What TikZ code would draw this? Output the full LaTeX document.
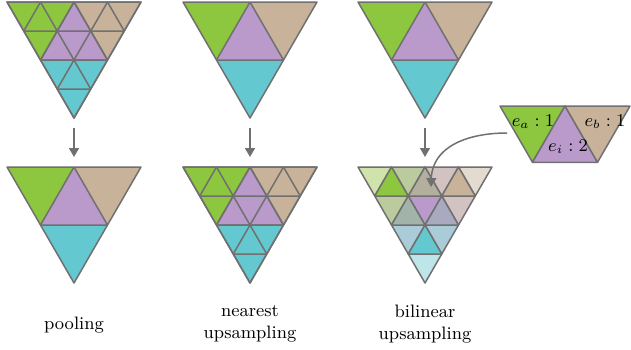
\documentclass[tikz,border=0pt]{standalone}
\usetikzlibrary{arrows.meta}
\begin{document}
\begin{tikzpicture}[x=0.5pt,y=0.5pt,
    tri/.style={draw=edge,line width=0.75pt,line join=round},
    flecha/.style={draw=edge,line width=0.75pt,-{Triangle[length=4.5pt,width=5pt]}},
    rotulo/.style={font=\small,align=center,inner sep=0pt}]
    %colores
    \definecolor{edge}{HTML}{707070}
    \definecolor{verde}{HTML}{8DC63F}
    \definecolor{morado}{HTML}{B99ACB}
    \definecolor{arena}{HTML}{C8B29A}
    \definecolor{cian}{HTML}{64C8D0}
    \definecolor{bA}{HTML}{D0E3AA}
    \definecolor{bB}{HTML}{BCCB9E}
    \definecolor{bC}{HTML}{D2C3C2}
    \definecolor{bD}{HTML}{E3DBD0}
    \definecolor{bE}{HTML}{B4AE9E}
    \definecolor{bF}{HTML}{A2B4AA}
    \definecolor{bG}{HTML}{A9A9BF}
    \definecolor{bH}{HTML}{AACBD8}
    \definecolor{bI}{HTML}{BEE5E8}
    \useasboundingbox (0,0) rectangle (631,-349);

    % triangulos gruesos
    \foreach \px/\py in {7/-2,183/-2,358/-2,7/-167,183/-167}{
        \begin{scope}[shift={(\px,\py)}]
            \fill[verde] (0,0) -- (67,0) -- (33.5,-58) -- cycle;
            \fill[arena] (67,0) -- (134,0) -- (100.5,-58) -- cycle;
            \fill[morado] (67,0) -- (33.5,-58) -- (100.5,-58) -- cycle;
            \fill[cian] (33.5,-58) -- (100.5,-58) -- (67,-116) -- cycle;
            \draw[tri] (0,0) -- (134,0) -- (67,-116) -- cycle
                (67,0) -- (33.5,-58) -- (100.5,-58) -- cycle;
        \end{scope}
    }

    % malla fina
    \foreach \px/\py in {7/-2,183/-167}{
        \begin{scope}[shift={(\px,\py)}]
            \foreach \r/\i in {0/0,0/1,0/2,0/3,1/0,1/1,1/2,2/0,2/1,3/0}
            \draw[tri] ({\r*16.75+\i*33.5},{-\r*29}) -- ++(33.5,0) -- ++(-16.75,-29) -- cycle;
        \end{scope}
    }

    % bilineal
    \begin{scope}[shift={(358,-167)}]
        \foreach \r/\i/\c in {0/0/bA,0/1/bB,0/2/bC,0/3/bD,1/0/bB,1/1/morado,1/2/bC,2/0/bH,2/1/bH,3/0/bI}
        \draw[tri,fill=\c] ({\r*16.75+\i*33.5},{-\r*29}) -- ++(33.5,0) -- ++(-16.75,-29) -- cycle;
        \foreach \r/\i/\c in {0/0/verde,0/1/bE,0/2/arena,1/0/bF,1/1/bG,2/0/cian}
        \draw[tri,fill=\c] ({\r*16.75+\i*33.5+33.5},{-\r*29}) -- ++(-16.75,-29) -- ++(33.5,0) -- cycle;
    \end{scope}

    % recuadro de pesos
    \begin{scope}[shift={(500,-106)}]
        \draw[tri,fill=verde] (0,0) -- (65,0) -- (32.5,-56.3) -- cycle;
        \draw[tri,fill=morado] (65,0) -- (32.5,-56.3) -- (97.5,-56.3) -- cycle;
        \draw[tri,fill=arena] (65,0) -- (130,0) -- (97.5,-56.3) -- cycle;
    \end{scope}
    \node[rotulo] (pa) at (533,-122) {$e_a:1$};
    \node[rotulo] (pi) at (568,-147) {$e_i:2$};
    \node[rotulo] (pb) at (605,-122) {$e_b:1$};

    % flechas
    \foreach \x/\n in {74/a,250/b,425/c}{
        \coordinate (ini\n) at (\x,-128);
        \coordinate (fin\n) at (\x,-157);
        \draw[flecha] (ini\n) -- (fin\n);
    }
    \coordinate (desde) at (507,-133);
    \coordinate (hasta) at (431,-187);
    \draw[flecha] (desde) to[out=180,in=88,looseness=1.1] (hasta);

    % textos
    \node[rotulo,anchor=base] (pool) at (74,-329) {pooling};
    \node[rotulo] (near) at (250,-324) {nearest\\upsampling};
    \node[rotulo] (bil) at (425,-324) {bilinear\\upsampling};
\end{tikzpicture}
\end{document}
